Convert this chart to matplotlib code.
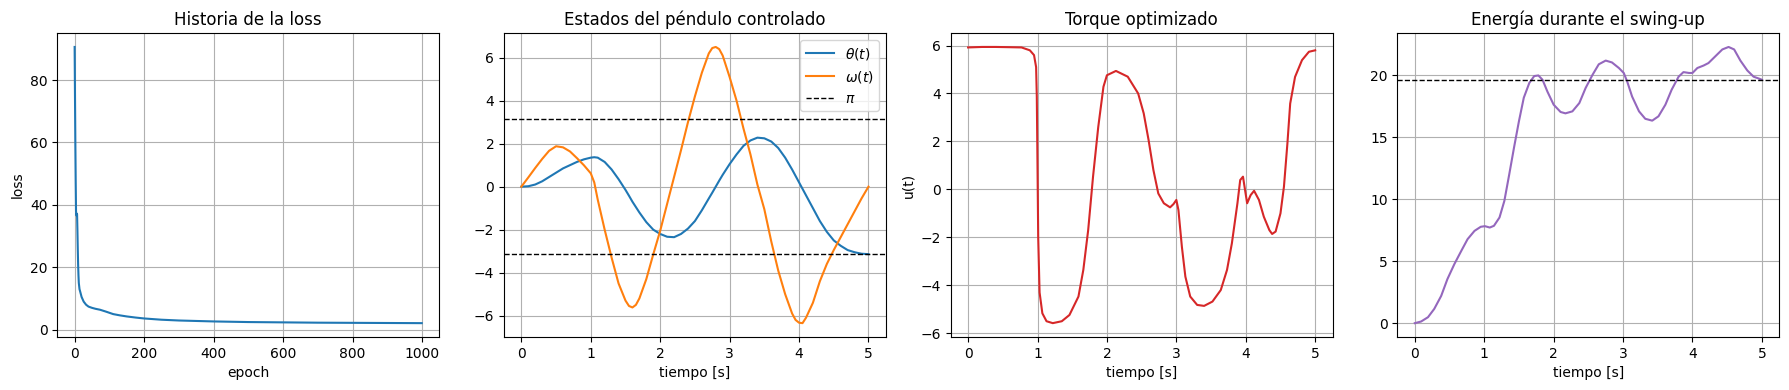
import numpy as np
import matplotlib
matplotlib.use("Agg")
import matplotlib.pyplot as plt

# historia de la loss
epochs = [0, 1, 2, 3, 4, 5, 6, 7, 8, 9, 10, 11, 12, 14, 16, 20, 26, 33, 40, 50,
          60, 73, 90, 111, 130, 150, 175, 200, 250, 300, 400, 500, 600, 700,
          800, 900, 999]
loss = [90.6, 75.0, 60.0, 48.0, 38.0, 36.6, 37.2, 37.0, 32.0, 26.0, 21.0, 17.5,
        15.0, 13.0, 12.2, 10.5, 9.0, 8.0, 7.4, 7.0, 6.7, 6.4, 5.8, 5.0, 4.6,
        4.25, 3.9, 3.6, 3.2, 2.95, 2.65, 2.45, 2.35, 2.25, 2.2, 2.15, 2.1]

# estados del pendulo
t_states = [0.0, 0.1, 0.2, 0.3, 0.4, 0.5, 0.6, 0.7, 0.8, 0.9, 1.0, 1.05, 1.1,
            1.2, 1.3, 1.4, 1.5, 1.55, 1.6, 1.65, 1.7, 1.8, 1.9, 2.0, 2.1, 2.2,
            2.3, 2.4, 2.5, 2.6, 2.7, 2.75, 2.8, 2.85, 2.9, 3.0, 3.1, 3.2, 3.3,
            3.4, 3.5, 3.6, 3.7, 3.8, 3.9, 3.95, 4.0, 4.05, 4.1, 4.2, 4.3, 4.4,
            4.5, 4.6, 4.7, 4.8, 4.9, 5.0]
theta = [0.0, 0.02, 0.1, 0.25, 0.45, 0.65, 0.85, 1.0, 1.15, 1.27, 1.35, 1.37,
         1.35, 1.15, 0.8, 0.35, -0.15, -0.42, -0.7, -0.95, -1.2, -1.65, -2.0,
         -2.2, -2.33, -2.35, -2.2, -1.95, -1.6, -1.1, -0.55, -0.28, 0.0, 0.28,
         0.55, 1.05, 1.5, 1.9, 2.15, 2.28, 2.25, 2.1, 1.8, 1.35, 0.8, 0.5, 0.2,
         -0.1, -0.4, -1.0, -1.6, -2.1, -2.5, -2.75, -2.95, -3.05, -3.12, -3.14]
omega = [0.0, 0.43, 0.87, 1.29, 1.67, 1.88, 1.83, 1.64, 1.33, 1.0, 0.62, 0.2,
         -0.6, -2.0, -3.3, -4.5, -5.3, -5.55, -5.62, -5.5, -5.2, -4.3, -3.15,
         -2.05, -0.8, 0.45, 1.7, 3.0, 4.2, 5.3, 6.2, 6.45, 6.5, 6.4, 6.1, 5.1,
         4.0, 2.7, 1.5, 0.1, -1.05, -2.55, -3.9, -5.0, -5.9, -6.2, -6.33,
         -6.35, -6.1, -5.4, -4.4, -3.6, -2.95, -2.35, -1.75, -1.15, -0.55, 0.0]

# torque optimizado
t_torque = [0.0, 0.2, 0.4, 0.6, 0.77, 0.89, 0.95, 0.98, 0.99, 1.0, 1.01, 1.03,
            1.07, 1.13, 1.22, 1.35, 1.46, 1.59, 1.66, 1.73, 1.8, 1.875, 1.95,
            2.0, 2.13, 2.3, 2.45, 2.53, 2.6, 2.67, 2.74, 2.82, 2.91, 2.96, 3.0,
            3.03, 3.08, 3.13, 3.2, 3.3, 3.4, 3.52, 3.64, 3.73, 3.8, 3.88, 3.92,
            3.96, 3.99, 4.02, 4.07, 4.12, 4.19, 4.26, 4.34, 4.38, 4.43, 4.5,
            4.55, 4.6, 4.64, 4.71, 4.81, 4.91, 5.0]
torque = [5.92, 5.94, 5.94, 5.93, 5.92, 5.8, 5.6, 5.1, 3.86, 1.0, -2.0, -4.3,
          -5.17, -5.5, -5.58, -5.5, -5.24, -4.47, -3.36, -1.7, 0.53, 2.6, 4.28,
          4.76, 4.94, 4.7, 4.0, 3.17, 2.06, 0.8, -0.17, -0.58, -0.75, -0.61,
          -0.44, -0.86, -2.4, -3.64, -4.47, -4.82, -4.86, -4.68, -4.2, -3.36,
          -2.25, -0.58, 0.39, 0.53, -0.03, -0.58, -0.24, -0.06, -0.44, -1.14,
          -1.7, -1.86, -1.76, -1.0, 0.11, 1.92, 3.58, 4.69, 5.39, 5.74, 5.8]

# energia
t_energy = [0.0, 0.09, 0.19, 0.28, 0.38, 0.47, 0.57, 0.67, 0.76, 0.86, 0.95,
            1.01, 1.08, 1.14, 1.22, 1.29, 1.36, 1.43, 1.5, 1.57, 1.65, 1.72,
            1.78, 1.84, 1.91, 2.0, 2.1, 2.17, 2.27, 2.37, 2.46, 2.56, 2.65,
            2.75, 2.84, 2.94, 3.01, 3.06, 3.13, 3.23, 3.32, 3.42, 3.51, 3.61,
            3.7, 3.8, 3.87, 3.95, 4.0, 4.07, 4.16, 4.23, 4.33, 4.43, 4.52, 4.6,
            4.69, 4.79, 4.88, 4.98, 5.0]
energy = [0.0, 0.13, 0.48, 1.15, 2.2, 3.56, 4.77, 5.84, 6.78, 7.45, 7.78,
          7.83, 7.72, 7.86, 8.53, 9.87, 12.0, 14.2, 16.3, 18.2, 19.4, 19.95,
          20.0, 19.65, 18.7, 17.64, 17.05, 16.94, 17.1, 17.77, 18.98, 20.05,
          20.9, 21.2, 21.05, 20.6, 20.2, 19.5, 18.3, 17.1, 16.5, 16.35, 16.7,
          17.64, 18.85, 19.9, 20.27, 20.2, 20.2, 20.6, 20.8, 21.0, 21.55, 22.1,
          22.3, 22.1, 21.2, 20.4, 19.9, 19.7, 19.65]
E_target = 19.62

fig, axes = plt.subplots(1, 4, figsize=(17.9, 3.9), dpi=100)
plt.subplots_adjust(left=0.032, right=0.994, top=0.915, bottom=0.136, wspace=0.17)

ax = axes[0]
ax.plot(epochs, loss)
ax.set_title("Historia de la loss")
ax.set_xlabel("epoch")
ax.set_ylabel("loss")
ax.grid(True)

ax = axes[1]
ax.plot(t_states, theta, label=r"$\theta(t)$")
ax.plot(t_states, omega, label=r"$\omega(t)$")
ax.axhline(np.pi, color="k", linestyle="--", linewidth=1, label=r"$\pi$")
ax.axhline(-np.pi, color="k", linestyle="--", linewidth=1)
ax.set_title("Estados del péndulo controlado")
ax.set_xlabel("tiempo [s]")
ax.legend(loc="upper right")
ax.grid(True)

ax = axes[2]
ax.plot(t_torque, torque, color="tab:red")
ax.set_title("Torque optimizado")
ax.set_xlabel("tiempo [s]")
ax.set_ylabel("u(t)")
ax.grid(True)

ax = axes[3]
ax.plot(t_energy, energy, color="tab:purple")
ax.axhline(E_target, color="k", linestyle="--", linewidth=1)
ax.set_title("Energía durante el swing-up")
ax.set_xlabel("tiempo [s]")
ax.grid(True)

plt.savefig("out.png")
